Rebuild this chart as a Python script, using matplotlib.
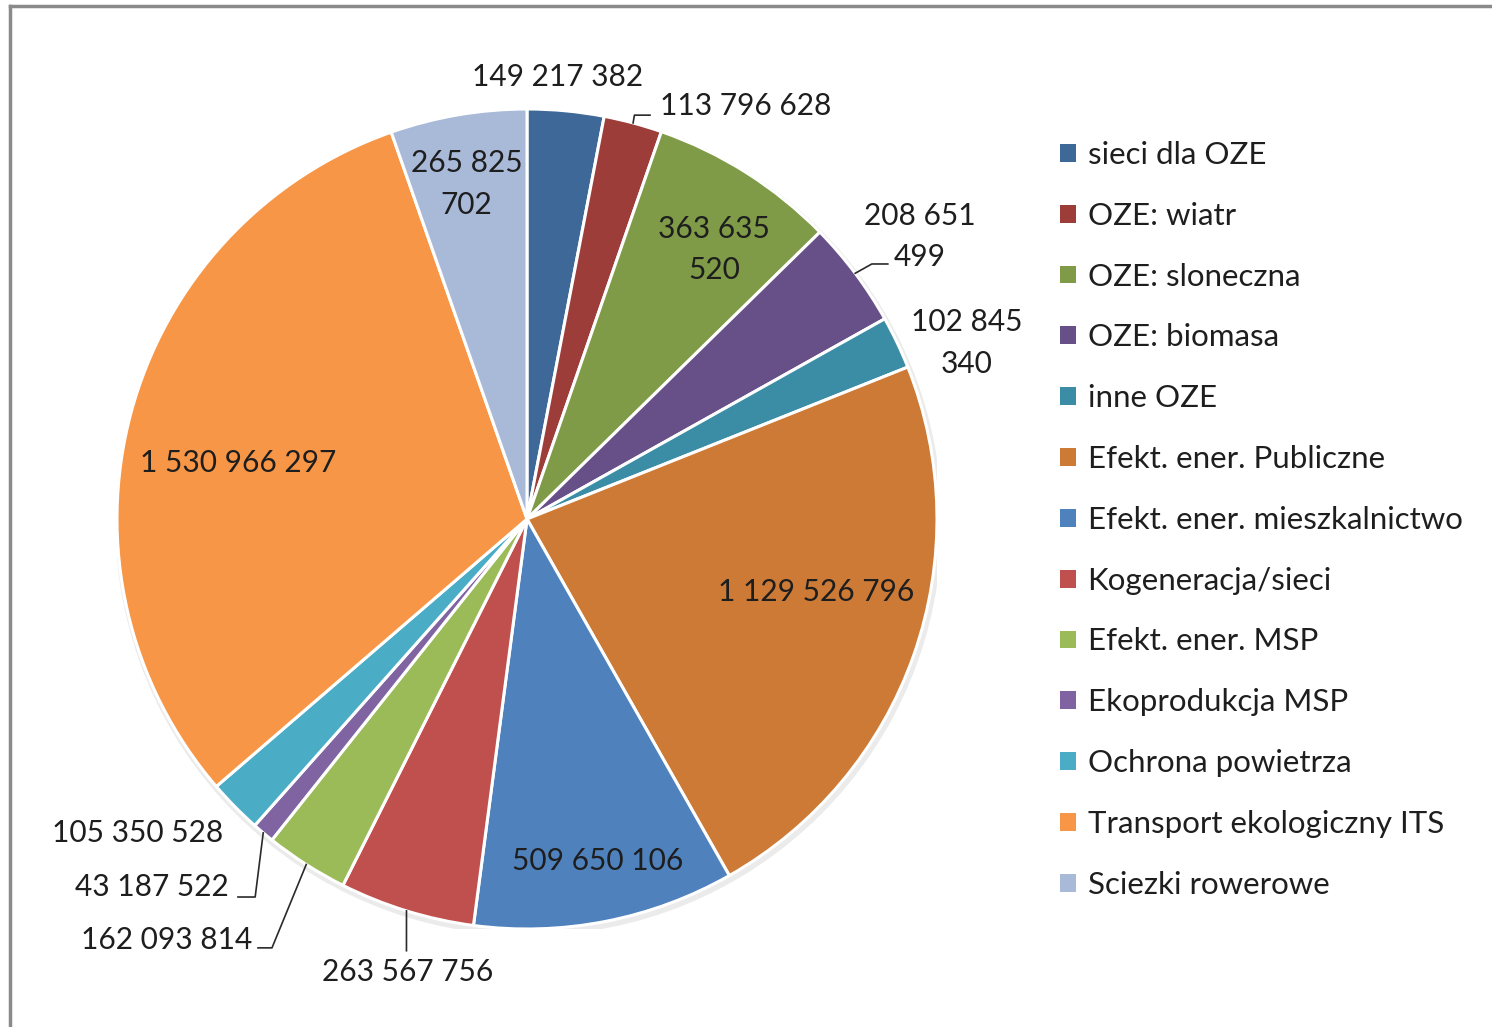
import matplotlib
matplotlib.use("Agg")
import matplotlib.pyplot as plt
from matplotlib.patches import Patch, Circle
from matplotlib.lines import Line2D
import numpy as np

categories = ['sieci dla OZE', 'OZE: wiatr', 'OZE: sloneczna', 'OZE: biomasa', 'inne OZE',
              'Efekt. ener. Publiczne', 'Efekt. ener. mieszkalnictwo', 'Kogeneracja/sieci',
              'Efekt. ener. MSP', 'Ekoprodukcja MSP', 'Ochrona powietrza',
              'Transport ekologiczny ITS', 'Sciezki rowerowe']
values = [149217382, 113796628, 363635520, 208651499, 102845340, 1129526796, 509650106,
          263567756, 162093814, 43187522, 105350528, 1530966297, 265825702]
colors = ['#3E6897', '#9D3D3A', '#7F9B48', '#674F87', '#3A8DA4', '#CC7A35', '#4F81BD',
          '#C0504D', '#9BBB59', '#8064A2', '#4BACC6', '#F79646', '#A9B9D8']

# label layout: radius, angle shift from wedge middle (deg), two-line split
lab_r = [1.08, 1.139, 0.80, 1.181, 1.156, 0.727, 0.852, 1.143, 1.352, 1.282, 1.22, 0.718, 0.83]
lab_d = [1.5, -12.9, -2.4, -1.1, -3.7, 5.1, 0.7, 2.3, -8.0, -5.5, -5.7, 4.0, 0.6]
two_line = {2, 3, 4, 12}
leaders = {
    1: [(0.262, 0.985), (0.30, 0.985)],
    3: [(0.841, 0.622), (0.880, 0.622)],
    7: [(-0.294, -1.053)],
    8: [(-0.622, -1.046), (-0.656, -1.046)],
    9: [(-0.663, -0.922), (-0.705, -0.922)],
}

plt.rcParams['font.family'] = ['Lato', 'DejaVu Sans']
txt_col = '#1e1e1e'

W, H = 1492, 1027
fig = plt.figure(figsize=(W / 100, H / 100), dpi=100)
cx, cy, R = 527, 1027 - 519, 410
ax = fig.add_axes([(cx - R) / W, (cy - R) / H, 2 * R / W, 2 * R / H])

# soft shadow
ax.add_patch(Circle((0.004, -0.008), 1.008, color='#ebebeb', zorder=0, lw=0))
wedges, _ = ax.pie(values, colors=colors, startangle=90, counterclock=False, radius=1,
                   wedgeprops=dict(edgecolor='white', linewidth=2.2))
ax.set_xlim(-1, 1)
ax.set_ylim(-1, 1)
ax.axis('off')

total = sum(values)
cum = np.cumsum([0] + values)
for i, v in enumerate(values):
    mid = 90 - 360 * (cum[i] + v / 2) / total
    s = f"{v:,}".replace(",", " ")
    if i in two_line:
        s = s[:-4] + "\n" + s[-3:]
    a = np.radians(mid + lab_d[i])
    ax.text(lab_r[i] * np.cos(a), lab_r[i] * np.sin(a), s, ha='center', va='center',
            fontsize=21.5, color=txt_col, linespacing=1.58)
    if i in leaders:
        m = np.radians(mid)
        pts = [(np.cos(m), np.sin(m))] + leaders[i]
        xs, ys = zip(*pts)
        ax.plot(xs, ys, color='#2a2a2a', lw=1.2, clip_on=False)

handles = [Patch(facecolor=c, edgecolor='none') for c in colors]
fig.legend(handles, categories, loc='upper left', bbox_to_anchor=(1060 / W, 1 - 141 / H),
           frameon=False, fontsize=22.5, handlelength=0.5, handleheight=0.5,
           handletextpad=0.38, labelspacing=1.05, labelcolor=txt_col,
           borderpad=0, borderaxespad=0)

# frame
fig.add_artist(Line2D([10 / W, 10 / W], [0, 1 - 6 / H], transform=fig.transFigure,
                      color='#8a8a8a', lw=2.5))
fig.add_artist(Line2D([10 / W, 1], [1 - 6 / H, 1 - 6 / H], transform=fig.transFigure,
                      color='#8a8a8a', lw=2.5))

fig.savefig('out.png', dpi=100)
